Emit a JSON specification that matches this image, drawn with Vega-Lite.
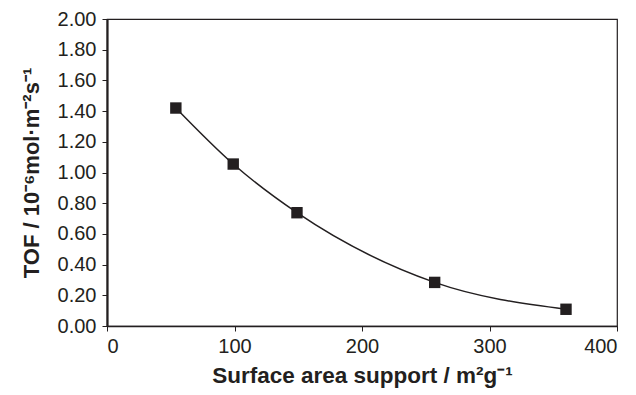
{
  "$schema": "https://vega.github.io/schema/vega-lite/v6.json",
  "width": 510,
  "height": 307,
  "autosize": {"type": "none"},
  "padding": {"left": 107, "top": 19, "right": 19, "bottom": 69},
  "background": "white",
  "config": {
    "view": {"stroke": "#231f20", "strokeWidth": 1.2},
    "font": "Liberation Sans",
    "axis": {
      "labelFont": "Liberation Sans",
      "titleFont": "Liberation Sans",
      "labelFontSize": 20,
      "labelColor": "#231f20",
      "titleColor": "#231f20",
      "titleFontSize": 21,
      "titleFontWeight": "bold",
      "domainColor": "#231f20",
      "tickColor": "#231f20",
      "tickSize": 5,
      "grid": false
    }
  },
  "data": {
    "values": [
      {"area": 54, "tof": 1.42},
      {"area": 99, "tof": 1.055},
      {"area": 149, "tof": 0.738},
      {"area": 257, "tof": 0.284},
      {"area": 360, "tof": 0.109}
    ]
  },
  "encoding": {
    "x": {
      "field": "area",
      "type": "quantitative",
      "scale": {"domain": [0, 400], "nice": false},
      "axis": {
        "values": [0, 100, 200, 300, 400],
        "title": "Surface area support / m²g⁻¹",
        "titleFontSize": 22.5,
        "labelPadding": 5,
        "titlePadding": 8,
        "domainWidth": 1.5
      }
    },
    "y": {
      "field": "tof",
      "type": "quantitative",
      "scale": {"domain": [0, 2], "nice": false},
      "axis": {
        "values": [0, 0.2, 0.4, 0.6, 0.8, 1.0, 1.2, 1.4, 1.6, 1.8, 2.0],
        "format": ".2f",
        "title": "TOF / 10⁻⁶mol·m⁻²s⁻¹",
        "titleFontSize": 22,
        "labelPadding": 6,
        "titlePadding": 14,
        "domainWidth": 2.2
      }
    }
  },
  "layer": [
    {
      "mark": {"type": "line", "interpolate": "monotone", "color": "#231f20", "strokeWidth": 1.5}
    },
    {
      "mark": {"type": "point", "shape": "square", "filled": true, "size": 130, "color": "#231f20", "opacity": 1}
    }
  ]
}
